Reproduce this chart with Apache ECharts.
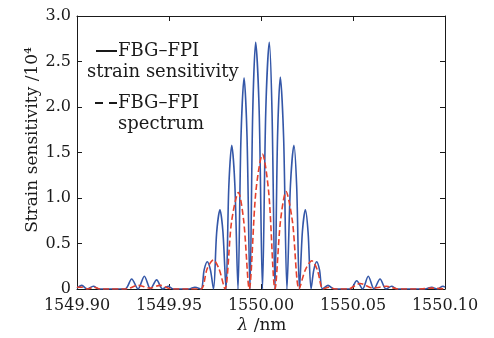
<!DOCTYPE html>
<html><head><meta charset="utf-8">
<script src="https://cdn.jsdelivr.net/npm/echarts@6/dist/echarts.min.js"></script>
<style>html,body{margin:0;padding:0;background:#fff}#c{width:494px;height:338px}</style>
</head><body><div id="c"></div>
<script>
// Wavelength ticks (nm)
const xTicks = [1549.90, 1549.95, 1550.00, 1550.05, 1550.10];
const yTicks = [0, 0.5, 1.0, 1.5, 2.0, 2.5, 3.0];

// FBG-FPI strain sensitivity (x: nm, y: 10^4)
const sensX = [1549.9000,1549.9026,1549.9054,1549.9089,1549.9120,1549.9261,1549.9297,1549.9332,1549.9366,1549.9399,
  1549.9433,1549.9465,1549.9495,1549.9524,1549.9609,1549.9641,1549.9674,
  1549.9691,1549.9708,1549.9725,1549.9742,
  1549.9759,1549.9777,1549.9793,1549.9810,
  1549.9825,1549.9841,1549.9858,1549.9875,
  1549.9891,1549.9908,1549.9924,1549.9940,
  1549.9955,1549.9971,1549.9990,1550.0008,
  1550.0026,1550.0045,1550.0060,1550.0076,
  1550.0090,1550.0105,1550.0123,1550.0141,
  1550.0160,1550.0179,1550.0194,1550.0209,
  1550.0225,1550.0241,1550.0256,1550.0272,
  1550.0287,1550.0303,1550.0318,1550.0334,
  1550.0364,1550.0397,1550.0486,
  1550.0520,1550.0552,1550.0583,1550.0614,1550.0647,1550.0679,1550.0710,1550.0739,1550.0891,1550.0928,
  1550.0957,1550.0989,1550.1000];
const sensY = [0.01,0.04,0.00,0.03,0.00,0.00,0.11,0.00,0.14,0.00,
  0.10,0.00,0.03,0.00,0.00,0.02,0.00,
  0.21,0.30,0.21,0.00,
  0.62,0.87,0.63,0.00,
  1.12,1.58,1.14,0.00,
  1.65,2.32,1.68,0.00,
  1.94,2.71,1.96,0.00,
  1.96,2.71,1.94,0.00,
  1.68,2.33,1.66,0.00,
  1.14,1.58,1.12,0.00,
  0.63,0.87,0.62,0.00,
  0.21,0.30,0.21,0.00,
  0.04,0.00,0.00,
  0.09,0.00,0.14,0.00,0.11,0.00,0.03,0.00,0.00,0.02,
  0.00,0.03,0.02];

// FBG-FPI spectrum
const specX = [1549.9000,1549.9027,1549.9060,1549.9092,1549.9125,1549.9266,1549.9332,1549.9397,1549.9451,1549.9516,
  1549.9614,1549.9674,
  1549.9707,1549.9741,1549.9772,1549.9804,
  1549.9840,1549.9877,1549.9906,1549.9936,
  1549.9972,1550.0008,1550.0042,1550.0076,
  1550.0106,1550.0136,1550.0171,1550.0207,
  1550.0241,1550.0276,1550.0306,1550.0337,
  1550.0370,1550.0402,1550.0473,1550.0538,1550.0609,1550.0683,1550.0745,1550.0864,
  1550.0928,1550.1000];
const specY = [0.02,0.02,0.00,0.02,0.00,0.00,0.04,0.01,0.04,0.00,
  0.00,0.00,
  0.22,0.32,0.22,0.00,
  0.74,1.06,0.75,0.00,
  1.07,1.48,1.06,0.00,
  0.75,1.07,0.74,0.00,
  0.21,0.31,0.21,0.00,
  0.02,0.00,0.00,0.06,0.01,0.03,0.00,0.00,
  0.01,0.00];

const legendNames = ['FBG\u2013FPI', 'strain sensitivity', 'FBG\u2013FPI', 'spectrum'];

const FONT = 'DejaVu Serif';
const INK = '#1a1a1a';
const chart = echarts.init(document.getElementById('c'), null, {renderer: 'canvas'});

const axisCommon = {
  type: 'value',
  axisLine: {show: true, onZero: false, lineStyle: {color: INK, width: 1}},
  axisTick: {show: true, inside: true, length: 5, lineStyle: {color: INK, width: 1}},
  splitLine: {show: false}
};

chart.setOption({
  animation: false,
  backgroundColor: '#fff',
  grid: {left: 77, right: 49, top: 16, bottom: 49, containLabel: false},
  xAxis: [
    Object.assign({}, axisCommon, {
      position: 'bottom', min: xTicks[0], max: xTicks[xTicks.length - 1], interval: 0.05,
      axisLabel: {formatter: v => v.toFixed(2), fontFamily: FONT, fontSize: 16, color: INK, margin: 9}
    }),
    Object.assign({}, axisCommon, {
      position: 'top', min: xTicks[0], max: xTicks[xTicks.length - 1], interval: 0.05,
      axisLabel: {show: false}
    })
  ],
  yAxis: [
    Object.assign({}, axisCommon, {
      position: 'left', min: yTicks[0], max: yTicks[yTicks.length - 1], interval: 0.5,
      axisLabel: {formatter: v => v === 0 ? '0' : v.toFixed(1), fontFamily: FONT, fontSize: 16, color: INK, margin: 6}
    }),
    Object.assign({}, axisCommon, {
      position: 'right', min: yTicks[0], max: yTicks[yTicks.length - 1], interval: 0.5,
      axisLabel: {show: false}
    })
  ],
  series: [
    {
      type: 'line', xAxisIndex: 0, yAxisIndex: 0, showSymbol: false, smooth: 0.3,
      data: sensX.map((x, i) => [x, sensY[i]]),
      lineStyle: {color: '#3457a8', width: 1.6}
    },
    {
      type: 'line', xAxisIndex: 0, yAxisIndex: 0, showSymbol: false, smooth: 0.3,
      data: specX.map((x, i) => [x, specY[i]]),
      lineStyle: {color: '#e5402c', width: 1.6, type: [6, 3]}
    }
  ],
  graphic: [
    {type: 'line', shape: {x1: 96, y1: 51, x2: 117, y2: 51}, style: {stroke: INK, lineWidth: 2}},
    {type: 'text', x: 118, y: 51, style: {text: legendNames[0], font: '18px "DejaVu Serif"', fill: INK, verticalAlign: 'middle'}},
    {type: 'text', x: 87, y: 72, style: {text: legendNames[1], font: '18px "DejaVu Serif"', fill: INK, verticalAlign: 'middle'}},
    {type: 'line', shape: {x1: 95, y1: 103, x2: 117, y2: 103}, style: {stroke: INK, lineWidth: 2, lineDash: [8, 6]}},
    {type: 'text', x: 118, y: 103, style: {text: legendNames[2], font: '18px "DejaVu Serif"', fill: INK, verticalAlign: 'middle'}},
    {type: 'text', x: 118, y: 124, style: {text: legendNames[3], font: '18px "DejaVu Serif"', fill: INK, verticalAlign: 'middle'}},
    {type: 'text', x: 33, y: 140, rotation: Math.PI / 2,
      style: {text: 'Strain sensitivity /10\u2074', font: '17px "DejaVu Serif"', fill: INK, align: 'center', verticalAlign: 'middle'}},
    {type: 'text', x: 262, y: 326,
      style: {text: '{i|\u03bb} /nm', font: '17px "DejaVu Serif"', fill: INK, align: 'center', verticalAlign: 'middle',
        rich: {i: {fontStyle: 'italic', fontFamily: FONT, fontSize: 17, fill: INK}}}}
  ]
});
</script>
</body></html>
